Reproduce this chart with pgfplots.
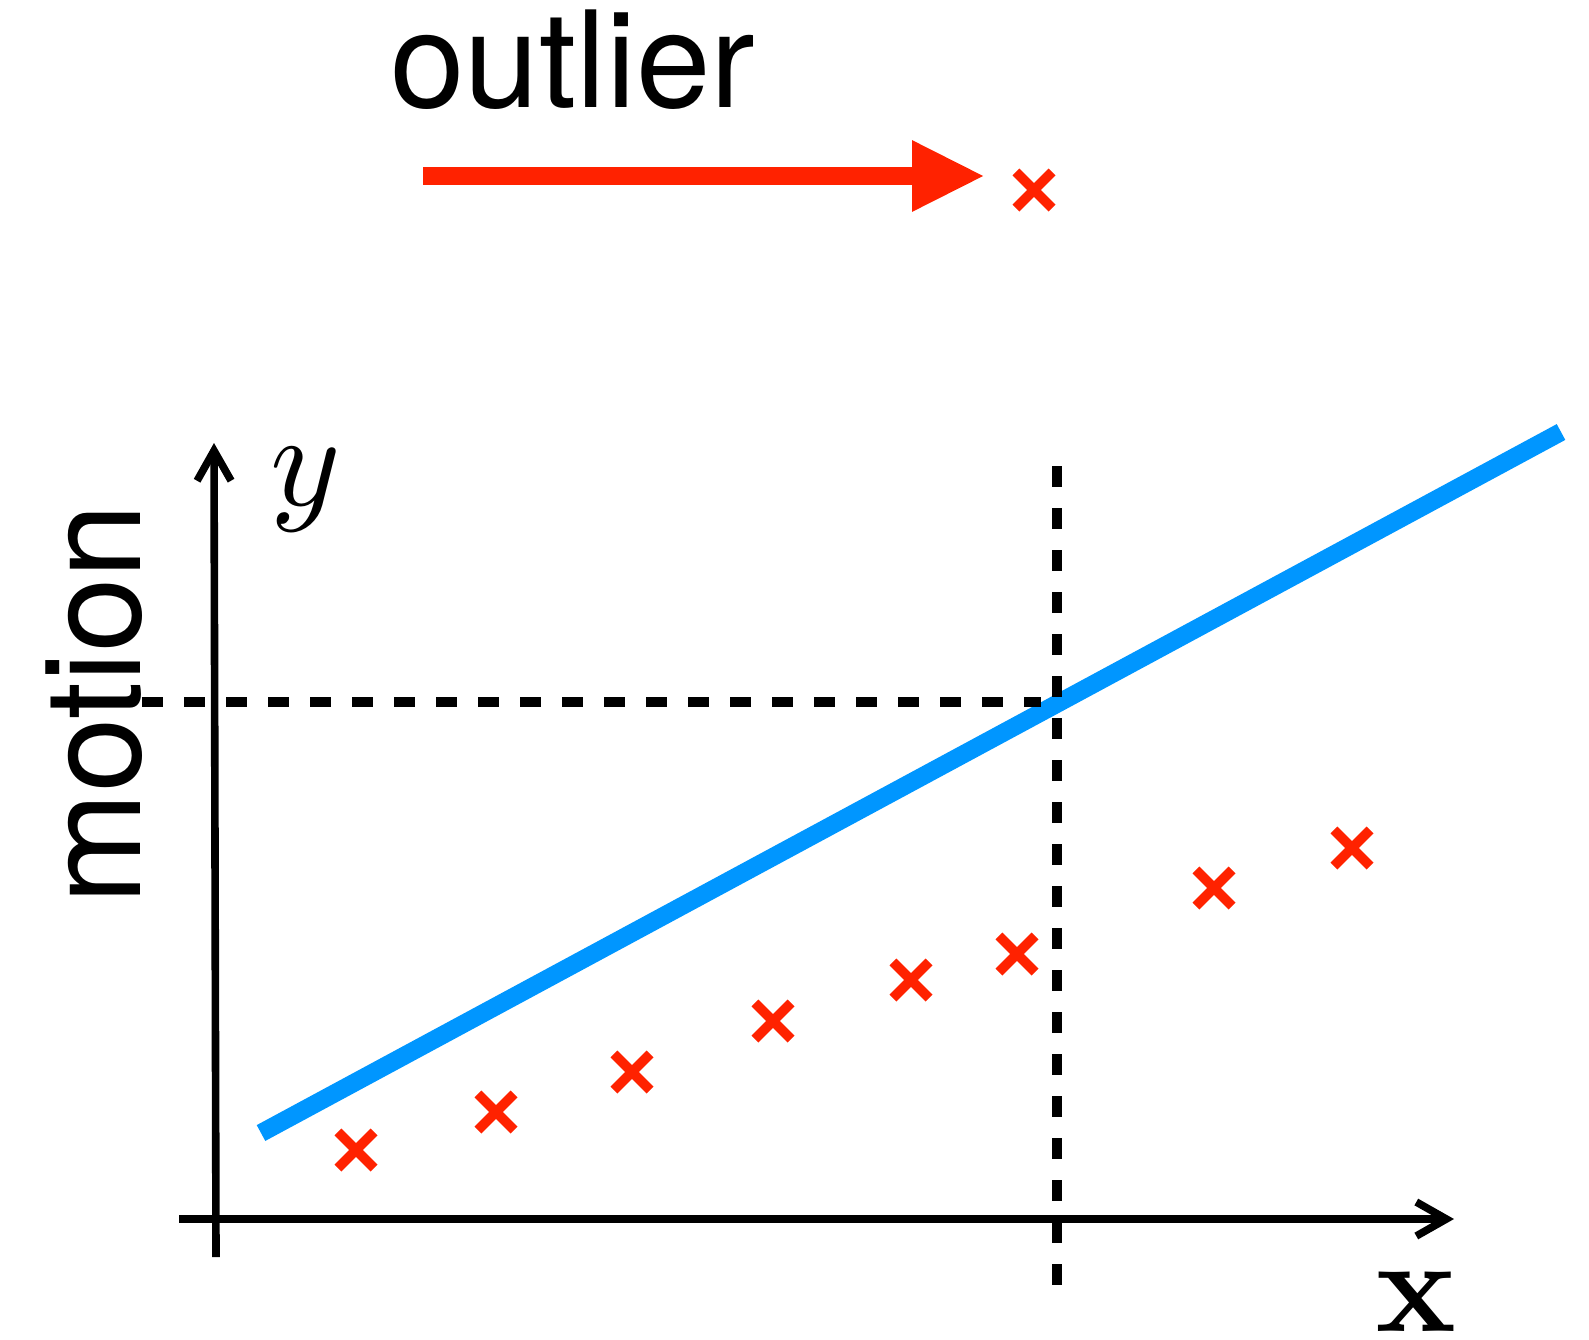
\documentclass[border=0pt]{standalone}
\usepackage[no-math]{fontspec}
\setmainfont{TeX Gyre Heros}
\usepackage{graphicx}
\usepackage{pgfplots}
\pgfplotsset{compat=1.18}
\usetikzlibrary{arrows.meta}
\definecolor{myred}{RGB}{255,34,0}
\definecolor{myblue}{RGB}{0,150,255}
\begin{document}
\begin{tikzpicture}
\begin{axis}[
  scale only axis, width=794.5pt, height=669.5pt,
  xmin=0, xmax=1589, ymin=0, ymax=1339, y dir=reverse,
  axis lines=none, clip=false,
]
% fitted line
\addplot[myblue, line width=9pt] coordinates {(261,1133) (1561,432)};
% dashed guides
\addplot[black, line width=5.2pt, dash pattern=on 10.5pt off 10.5pt] coordinates {(142,702) (1041,702)};
\addplot[black, line width=5.2pt, dash pattern=on 10.5pt off 10.5pt] coordinates {(1057,466) (1057,1300)};
% axes
\addplot[black, line width=3.8pt, -{Straight Barb[length=15pt,width=17pt]}] coordinates {(216,1257) (214,443)};
\addplot[black, line width=3.8pt, -{Straight Barb[length=15pt,width=17pt]}] coordinates {(179,1219) (1454,1219)};
% data points
\addplot[only marks, mark=x, mark size=12.8pt, myred, line width=4.8pt] coordinates {
(356,1150) (496,1112) (632,1072) (773,1021) (911,980) (1017,954) (1214,888) (1352,848)};
% outlier
\addplot[only marks, mark=x, mark size=12.8pt, myred, line width=4.8pt] coordinates {(1034,190)};
\addplot[myred, line width=9pt, -{Triangle[length=36.5pt,width=33pt]}] coordinates {(423,176) (985,176)};
% labels
\node[anchor=base west, inner sep=0pt, font=\fontsize{67}{80}\selectfont] at (axis cs:390,107) {outlier};
\node[anchor=base, rotate=90, inner sep=0pt, font=\fontsize{67}{80}\selectfont] at (axis cs:140,704) {motion};
\node[inner sep=0pt] at (axis cs:306,490) {\scalebox{6.7}{$y$}};
\node[inner sep=0pt] at (axis cs:1416,1302) {\scalebox{6.7}{\fontencoding{OT1}\fontfamily{cmr}\fontseries{bx}\fontshape{n}\selectfont x}};
\end{axis}
\pgfresetboundingbox
\useasboundingbox (current axis.south west) rectangle (current axis.north east);
\end{tikzpicture}
\end{document}
